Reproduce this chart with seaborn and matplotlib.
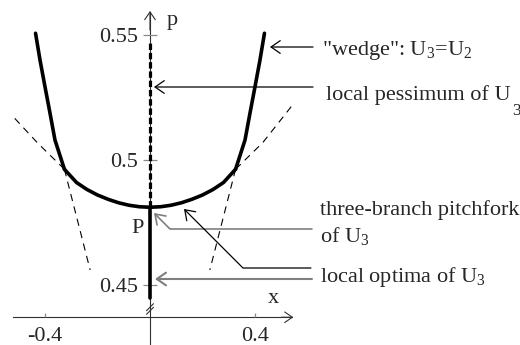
import matplotlib
matplotlib.use("Agg")
import matplotlib.pyplot as plt
import seaborn as sns
from matplotlib.lines import Line2D

# --- data -----------------------------------------------------------------
# inner arc of optima between the two kinks (solid)
arc_x = [-0.326, -0.28, -0.24, -0.2, -0.16, -0.12, -0.08, -0.04, 0.0,
         0.04, 0.08, 0.12, 0.16, 0.2, 0.24, 0.28, 0.326]
arc_p = [0.4963, 0.4910, 0.4882, 0.4860, 0.4843, 0.4829, 0.4819, 0.4813, 0.4811,
         0.4813, 0.4819, 0.4829, 0.4843, 0.4860, 0.4882, 0.4910, 0.4963]

# outer branch for x > 0 (solid); the x < 0 branch is its mirror image
outer_x = [0.326, 0.362, 0.381, 0.400, 0.419, 0.436]
outer_p = [0.4963, 0.5080, 0.5188, 0.5293, 0.5400, 0.5507]

# dashed continuation of the arc beyond the kinks
arc_ext_left_x = [-0.326, -0.43, -0.521]
arc_ext_left_p = [0.4963, 0.507, 0.5173]
arc_ext_right_x = [0.326, 0.43, 0.543]
arc_ext_right_p = [0.4963, 0.507, 0.522]

# dashed continuation of the outer branches below the kinks
outer_ext_x = [0.326, 0.228]
outer_ext_p = [0.4963, 0.456]

# wedge along x = 0: pessimum part (dashed) above P, optimum part (solid) below
wedge_dash_x = [0.0, 0.0]
wedge_dash_p = [0.4811, 0.547]
wedge_solid_x = [0.0, 0.0]
wedge_solid_p = [0.4448, 0.4811]

y_ticks = [0.45, 0.5, 0.55]
y_tick_labels = ["0.45", "0.5", "0.55"]
x_ticks = [-0.4, 0.4]
x_tick_labels = ["-0.4", "0.4"]

# --- style ----------------------------------------------------------------
sns.set_style("white")
plt.rcParams["font.family"] = ["Liberation Serif", "DejaVu Serif"]
plt.rcParams["mathtext.fontset"] = "custom"
plt.rcParams["mathtext.rm"] = "Liberation Serif"
plt.rcParams["mathtext.default"] = "regular"
FS = 16
AX_COL = "#303030"
TICK_COL = "#8a8a8a"
GRAY = "#7f7f7f"

fig = plt.figure(figsize=(5.2, 3.45), dpi=100)
ax = fig.add_axes([0, 0, 1, 1])
ax.set_facecolor("none")
ax.set_xlim(-0.5714, 1.4095)
ax.set_ylim(0.426, 0.564)

thick = dict(color="black", lw=2.6, estimator=None, sort=False, legend=False, ax=ax,
             solid_joinstyle="round")
thin_dash = dict(color="black", lw=0.8, estimator=None, sort=False, legend=False,
                 ax=ax, linestyle=(0, (6.5, 5.0)))

# dashed continuations
sns.lineplot(x=arc_ext_left_x, y=arc_ext_left_p, **thin_dash)
sns.lineplot(x=arc_ext_right_x, y=arc_ext_right_p, **thin_dash)
sns.lineplot(x=outer_ext_x, y=outer_ext_p, **thin_dash)
sns.lineplot(x=[-v for v in outer_ext_x], y=outer_ext_p, **thin_dash)

# solid curves
sns.lineplot(x=arc_x, y=arc_p, **thick)
sns.lineplot(x=outer_x, y=outer_p, **thick)
sns.lineplot(x=[-v for v in outer_x], y=outer_p, **thick)

# wedge on the p axis
sns.lineplot(x=wedge_dash_x, y=wedge_dash_p, color="black", lw=2.3, estimator=None,
             sort=False, legend=False, ax=ax, linestyle=(0, (2.0, 0.9)))
sns.lineplot(x=wedge_solid_x, y=wedge_solid_p, **thick)

# --- axes -----------------------------------------------------------------
for s in ("top", "right"):
    ax.spines[s].set_visible(False)
ax.spines["left"].set_position(("data", 0))
ax.spines["left"].set_bounds(0.426, 0.5592)
ax.spines["bottom"].set_position(("data", 0.4371))
ax.spines["bottom"].set_bounds(-0.52, 0.542)
for s in ("left", "bottom"):
    ax.spines[s].set_color(AX_COL)
    ax.spines[s].set_linewidth(0.8)
    ax.spines[s].set_zorder(0.5)

ax.set_yticks(y_ticks, labels=y_tick_labels)
ax.set_xticks(x_ticks, labels=x_tick_labels)
ax.tick_params(axis="y", direction="inout", length=10, width=0.9, color=TICK_COL,
               pad=3.5, labelsize=FS, left=True)
ax.tick_params(axis="x", direction="in", length=3, width=0.9, color=TICK_COL,
               pad=7, labelsize=FS, bottom=True)

head = "->,head_length=0.55,head_width=0.38"
ax.annotate("", xy=(0, 0.5596), xytext=(0, 0.552),
            arrowprops=dict(arrowstyle=head, lw=0.8, color=AX_COL, mutation_scale=10,
                            shrinkA=0, shrinkB=0))
ax.annotate("", xy=(0.546, 0.4371), xytext=(0.5, 0.4371),
            arrowprops=dict(arrowstyle=head, lw=0.8, color=AX_COL, mutation_scale=10,
                            shrinkA=0, shrinkB=0))

# axis-break mark on the p axis
fig.canvas.draw()
bx, by = ax.transData.transform((0, 0.4404))
for off in (-1.8, 1.8):
    ax.add_line(Line2D([bx - 3.5, bx + 3.5], [by - 3.5 + off, by + 3.5 + off],
                       transform=None, color=AX_COL, lw=0.8))

ax.text(0.0648, 0.554, "p", fontsize=FS, va="baseline", ha="left")
ax.text(0.4495, 0.4428, "x", fontsize=FS, va="baseline", ha="left")
ax.text(-0.0697, 0.4708, "P", fontsize=FS, va="baseline", ha="left")

# --- annotations ----------------------------------------------------------
def arrow(xy, xytext, color="black", lw=0.9, conn="arc3"):
    ax.annotate("", xy=xy, xytext=xytext,
                arrowprops=dict(arrowstyle=head, lw=lw, color=color, mutation_scale=12,
                                shrinkA=0, shrinkB=0, connectionstyle=conn))

arrow((0.457, 0.5452), (0.621, 0.5452))
ax.text(0.655, 0.542, '"wedge": U$_3$=U$_2$', fontsize=FS, va="baseline")

arrow((0.0152, 0.5292), (0.621, 0.5292))
ax.text(0.670, 0.524, "local pessimum of U", fontsize=FS, va="baseline")
ax.text(1.378, 0.518, "3", fontsize=12.5, va="baseline")

arrow((0.0152, 0.4788), (0.617, 0.4724), color=GRAY, lw=1.2,
      conn="angle,angleA=0,angleB=-45,rad=0")
ax.text(0.648, 0.478, "three-branch pitchfork", fontsize=FS, va="baseline")
ax.text(0.648, 0.4672, "of U$_3$", fontsize=FS, va="baseline")

arrow((0.1295, 0.4804), (0.613, 0.4568), lw=0.9,
      conn="angle,angleA=0,angleB=-45,rad=0")
arrow((0.019, 0.4524), (0.617, 0.4524), color=GRAY, lw=1.5)
ax.text(0.648, 0.4512, "local optima of U$_3$", fontsize=FS, va="baseline")

fig.savefig("out.png", dpi=100, facecolor="white")
